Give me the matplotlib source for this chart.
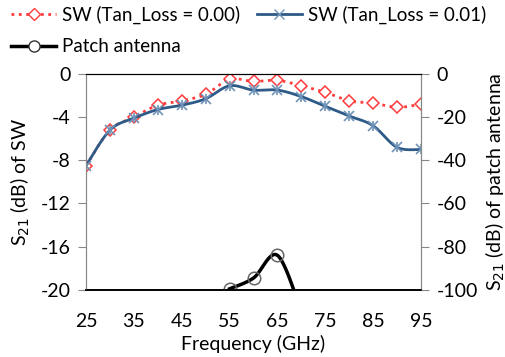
import matplotlib
matplotlib.use("Agg")
import matplotlib.pyplot as plt
from matplotlib.lines import Line2D
import numpy as np

plt.rcParams["font.family"] = ["Lato", "DejaVu Sans"]
plt.rcParams["axes.unicode_minus"] = False

freq = [25, 30, 35, 40, 45, 50, 55, 60, 65, 70, 75, 80, 85, 90, 95]
sw_000 = [-8.5, -5.2, -4.0, -2.9, -2.5, -1.9, -0.5, -0.7, -0.6, -1.1, -1.7, -2.5, -2.7, -3.1, -2.8]
sw_001 = [-8.5, -5.2, -4.1, -3.3, -2.9, -2.3, -1.1, -1.5, -1.5, -2.1, -3.0, -3.9, -4.8, -6.8, -7.0]
patch_freq = [55, 60, 65, 70]
patch = [-99.5, -94.5, -84.0, -110.0]

left_ticks = [0, -4, -8, -12, -16, -20]
right_ticks = [0, -20, -40, -60, -80, -100]
x_ticks = [25, 35, 45, 55, 65, 75, 85, 95]

RED = "#FF3B3B"
BLUE = "#2E5A87"
BLUE_M = "#6F93B8"
FS = 14


def smooth(x, y, n=20):
    # Catmull-Rom style smoothing, like Excel's smoothed lines
    x = np.asarray(x, float); y = np.asarray(y, float)
    px = np.r_[x[0], x, x[-1]]; py = np.r_[y[0], y, y[-1]]
    xs, ys = [], []
    for i in range(1, len(px) - 2):
        t = np.linspace(0, 1, n)
        for p, out in ((px, xs), (py, ys)):
            p0, p1, p2, p3 = p[i - 1], p[i], p[i + 1], p[i + 2]
            out.extend(0.5 * ((2 * p1) + (-p0 + p2) * t + (2 * p0 - 5 * p1 + 4 * p2 - p3) * t ** 2
                              + (-p0 + 3 * p1 - 3 * p2 + p3) * t ** 3))
    return xs, ys


fig = plt.figure(figsize=(5.06, 3.57), dpi=100)
ax = fig.add_axes([0.170, 0.188, 0.662, 0.605])
ax2 = ax.twinx()

sx, sy = smooth(freq, sw_000)
ax.plot(sx, sy, ":", color=RED, lw=2)
ax.plot(freq, sw_000, "D", mfc="white", mec=RED, ms=6, mew=1.1)
sx, sy = smooth(freq, sw_001)
ax.plot(sx, sy, "-", color=BLUE, lw=2)
ax.plot(freq, sw_001, "x", color=BLUE_M, ms=7, mew=1.2)
ax.plot(freq, sw_001, "|", color=BLUE_M, ms=7, mew=1.2)

px_, py_ = smooth(patch_freq, patch)
ax2.plot(px_, py_, "-", color="black", lw=2.5)
ax2.plot(patch_freq, patch, "o", mfc="none", mec="#666666", ms=9, mew=1.1)

ax.set_xlim(25, 95)
ax.set_ylim(-20, 0)
ax2.set_ylim(-100, 0)
ax.set_xticks(x_ticks)
ax.set_yticks(left_ticks)
ax2.set_yticks(right_ticks)
ax.tick_params(axis="x", length=0, pad=17, labelsize=FS)
ax.tick_params(axis="y", direction="out", length=6, color="#888888", labelsize=FS, pad=5)
ax2.tick_params(axis="y", direction="out", length=6, color="#888888", labelsize=FS, pad=5)

for a in (ax, ax2):
    a.spines["left"].set_color("#888888")
    a.spines["right"].set_color("#888888")
    a.spines["top"].set_color("black")
    a.spines["bottom"].set_color("black")
    a.spines["bottom"].set_linewidth(1.2)

ax.set_xlabel("Frequency (GHz)", fontsize=FS, labelpad=3)
ax.set_ylabel("S$_{21}$ (dB) of SW", fontsize=FS, labelpad=6)
ax2.set_ylabel("S$_{21}$ (dB) of patch antenna", fontsize=FS, labelpad=4)

h1 = Line2D([], [], ls=":", color=RED, lw=2, marker="D", mfc="white", mec=RED, ms=6)
h2 = Line2D([], [], ls="-", color=BLUE, lw=2, marker="x", mec=BLUE_M, ms=7)
h3 = Line2D([], [], ls="-", color="black", lw=2.5, marker="o", mfc="white", mec="#333333", ms=8)
fig.legend([h1, h3, h2], ["SW (Tan_Loss = 0.00)", "Patch antenna", "SW (Tan_Loss = 0.01)"],
           loc="upper left", bbox_to_anchor=(0.0, 1.015), ncol=2, frameon=False, fontsize=13.5,
           handlelength=2.4, handletextpad=0.3, columnspacing=0.9, labelspacing=0.75,
           borderpad=0.3, borderaxespad=0.3)

fig.savefig("out.png", dpi=100)
